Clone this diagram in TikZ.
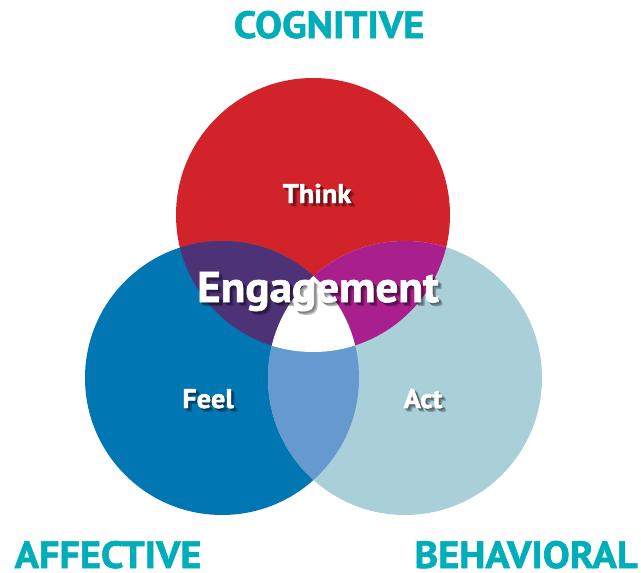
\documentclass[tikz,border=0pt]{standalone}
\usepackage{fontspec}
\setmainfont{PT Sans}[BoldFeatures={FakeBold=1.5}]
\definecolor{headcol}{HTML}{00AEB9}
\definecolor{thinkred}{HTML}{D2232A}
\definecolor{feelblue}{HTML}{0077B3}
\definecolor{actblue}{HTML}{A9CFD9}
\definecolor{tfpurple}{HTML}{4D3278}
\definecolor{tamagenta}{HTML}{A91F8E}
\definecolor{faover}{HTML}{6699CF}
\tikzset{
  heading/.style={font=\fontsize{38}{38}\selectfont\bfseries, text=headcol, inner sep=0pt, anchor=base, xscale=1.06},
  lbl/.style={font=\fontsize{#1}{#1}\selectfont\bfseries, text=white, inner sep=0pt, anchor=base, xscale=1.05},
  lblshadow/.style={font=\fontsize{#1}{#1}\selectfont\bfseries, text=black, opacity=0.18, inner sep=0pt, anchor=base, xscale=1.05},
}
\newcommand\shadowtext[4]{% node name, position, size, text
  \foreach \d in {1.5,2.5,3.5}{\node[lblshadow=#3, xshift=\d pt, yshift=-\d pt] at (#2) {#4};}
  \node[lbl=#3] (#1) at (#2) {#4};
}
\begin{document}
\begin{tikzpicture}[x=1pt,y=-1pt]
  \useasboundingbox (0,0) rectangle (641,573);
  % circle centres and radius
  \coordinate (cT) at (313,215);
  \coordinate (cF) at (222,378);
  \coordinate (cA) at (405,378);
  \def\r{137}
  % single circles
  \fill[thinkred] (cT) circle (\r);
  \fill[feelblue] (cF) circle (\r);
  \fill[actblue]  (cA) circle (\r);
  % pairwise overlaps
  \begin{scope}
    \clip (cT) circle (\r);
    \fill[tfpurple] (cF) circle (\r);
    \fill[tamagenta] (cA) circle (\r);
  \end{scope}
  \begin{scope}
    \clip (cF) circle (\r);
    \fill[faover] (cA) circle (\r);
  \end{scope}
  % triple overlap
  \begin{scope}
    \clip (cT) circle (\r);
    \clip (cF) circle (\r);
    \fill[white] (cA) circle (\r);
  \end{scope}
  % headings
  \node[heading] (cog) at (329,38) {COGNITIVE};
  \node[heading] (aff) at (108,568) {AFFECTIVE};
  \node[heading] (beh) at (526,568) {BEHAVIORAL};
  % circle labels
  \shadowtext{think}{317,203}{27}{Think}
  \shadowtext{feel}{208,408}{27}{Feel}
  \shadowtext{act}{423,408}{27}{Act}
  \shadowtext{eng}{318,302}{43}{Engagement}
\end{tikzpicture}
\end{document}
